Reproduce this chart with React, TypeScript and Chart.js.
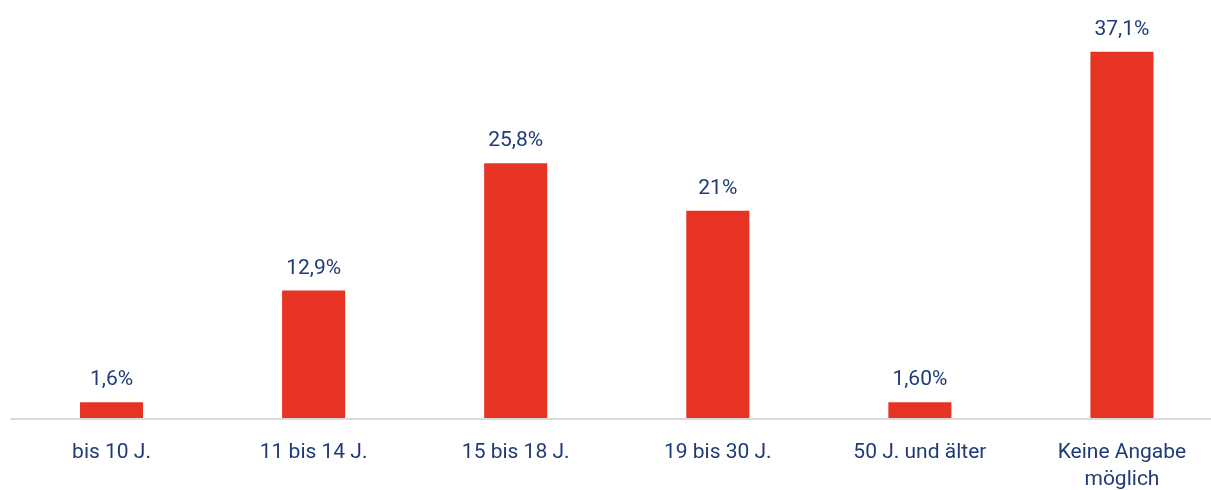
import React, { useEffect, useRef } from "react";
import { Chart, registerables } from "chart.js";

Chart.register(...registerables);

const categories: (string | string[])[] = [
  "bis 10 J.",
  "11 bis 14 J.",
  "15 bis 18 J.",
  "19 bis 30 J.",
  "50 J. und älter",
  ["Keine Angabe", "möglich"],
];
const values = [1.6, 12.9, 25.8, 21, 1.6, 37.1];
const valueLabels = ["1,6%", "12,9%", "25,8%", "21%", "1,60%", "37,1%"];

const RED = "#E63323";
const NAVY = "#1F3B77";
const FONT = "Roboto, 'Noto Sans', sans-serif";

const valueLabelPlugin = {
  id: "valueLabels",
  beforeDatasetsDraw(chart: any) {
    const ctx = chart.ctx;
    const area = chart.chartArea;
    ctx.save();
    ctx.strokeStyle = "#D9D9D9";
    ctx.lineWidth = 2;
    ctx.beginPath();
    ctx.moveTo(area.left, area.bottom + 1);
    ctx.lineTo(chart.width, area.bottom + 1);
    ctx.stroke();
    ctx.restore();
  },
  afterDatasetsDraw(chart: any) {
    const ctx = chart.ctx;
    const meta = chart.getDatasetMeta(0);
    ctx.save();
    ctx.fillStyle = NAVY;
    ctx.font = `21px ${FONT}`;
    ctx.textAlign = "center";
    ctx.textBaseline = "alphabetic";
    meta.data.forEach((bar: any, i: number) => {
      ctx.fillText(valueLabels[i], bar.x, bar.y - 17);
    });
    ctx.restore();
  },
};

export default function App() {
  const ref = useRef<HTMLCanvasElement | null>(null);
  useEffect(() => {
    document.body.style.margin = "0";
    if (!ref.current) return;
    const chart = new Chart(ref.current, {
      type: "bar",
      data: {
        labels: categories,
        datasets: [
          {
            data: values,
            backgroundColor: RED,
            categoryPercentage: 1,
            barPercentage: 0.312,
          },
        ],
      },
      options: {
        responsive: false,
        animation: false,
        layout: { padding: { left: 10.5, right: 0, top: 23, bottom: 0 } },
        plugins: { legend: { display: false }, tooltip: { enabled: false } },
        scales: {
          x: {
            grid: { display: false, drawTicks: false },
            border: { display: false },
            ticks: {
              color: NAVY,
              font: { family: FONT, size: 21, lineHeight: 1.25 },
              padding: 22,
              maxRotation: 0,
              autoSkip: false,
            },
            afterFit: (scale: any) => {
              scale.height = 72;
            },
          },
          y: { display: false, min: 0, max: 40 },
        },
      },
      plugins: [valueLabelPlugin],
    });
    return () => chart.destroy();
  }, []);
  return (
    <div style={{ width: 1211, height: 490, overflow: "hidden" }}>
      <canvas ref={ref} width={1223} height={490} style={{ display: "block" }} />
    </div>
  );
}
